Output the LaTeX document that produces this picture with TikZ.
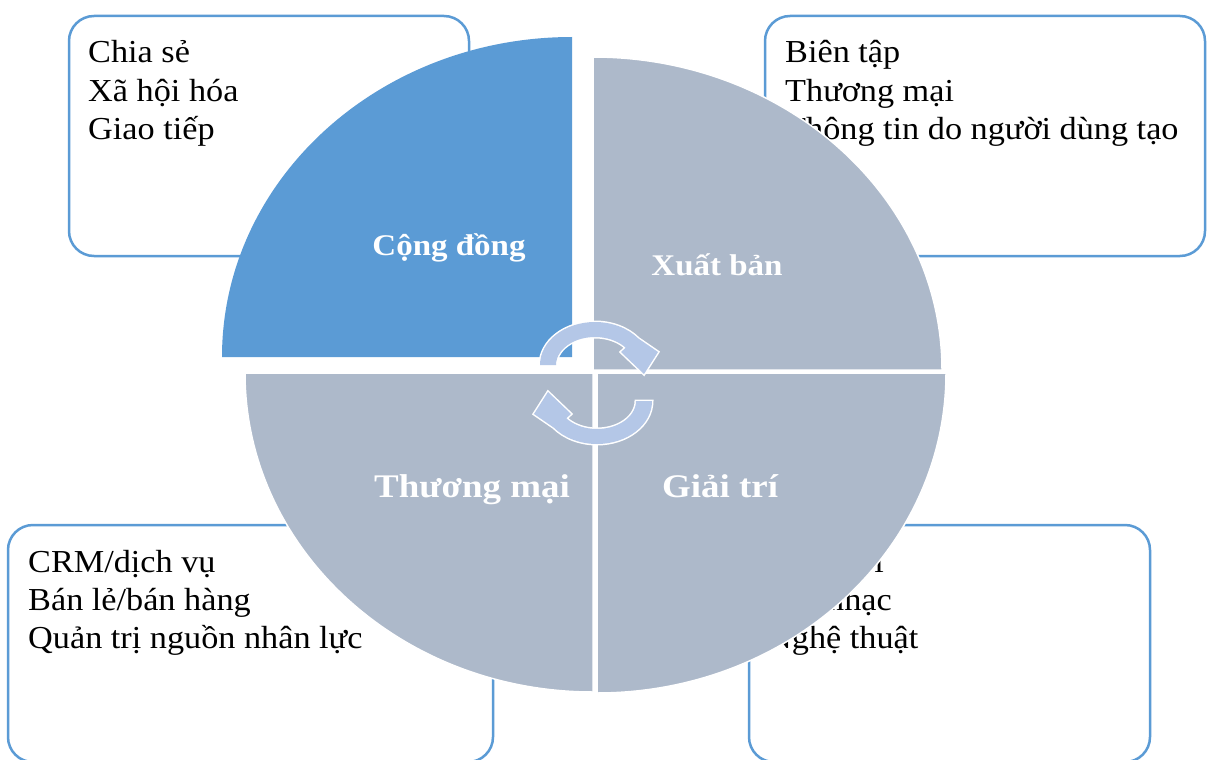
\documentclass[tikz,border=0pt]{standalone}
\usepackage{fontspec}
\setmainfont{Liberation Serif}
\definecolor{qblue}{HTML}{5B9BD5}
\definecolor{qgray}{HTML}{ADB9CA}
\definecolor{arw}{HTML}{B4C7E7}
\begin{document}
\begin{tikzpicture}[x=1pt,y=-1pt,
  box/.style={draw=qblue, line width=2.5pt, fill=white, rounded corners=25pt},
  itm/.style={anchor=base west, inner sep=0pt, transform shape, xscale=1.07,
              font=\fontsize{32}{38}\selectfont, text=black},
  labt/.style={anchor=base, inner sep=0pt, transform shape, xscale=1.1,
              font=\fontsize{30}{36}\selectfont\bfseries, text=white},
  labb/.style={anchor=base, inner sep=0pt, transform shape, xscale=1.12,
              font=\fontsize{33}{38}\selectfont\bfseries, text=white},
  quad/.style={fill=qgray, draw=white, line width=1.5pt},
  cyc/.pic={\path[fill=arw, preaction={draw=white, line width=3pt, line join=miter}]
     (-55,0) arc[start angle=180,end angle=322,x radius=55,y radius=43]
     -- (63,-13) -- (49,9) -- (26,-13) -- ({39*cos(322)},{28*sin(322)})
     arc[start angle=322,end angle=180,x radius=39,y radius=28] -- cycle;}
]
\useasboundingbox (0,0) rectangle (1207,760);
\fill[white] (0,0) rectangle (1207,760);
% boxes
\draw[box] (69,16) rectangle (469,256);
\draw[box] (765,16) rectangle (1205,256);
\draw[box] (8,525) rectangle (493,762);
\draw[box] (749,525) rectangle (1150,762);
% box texts
\node[itm] (a1) at (88,63) {Chia sẻ};
\node[itm] (a2) at (88,101) {Xã hội hóa};
\node[itm] (a3) at (88,139) {Giao tiếp};
\node[itm] (b1) at (785,63) {Biên tập};
\node[itm] (b2) at (785,101) {Thương mại};
\node[itm] (b3) at (785,139) {Thông tin do người dùng tạo};
\node[itm] (c1) at (28,572) {CRM/dịch vụ};
\node[itm] (c2) at (28,610) {Bán lẻ/bán hàng};
\node[itm] (c3) at (28,648) {Quản trị nguồn nhân lực};
\node[itm] (d1) at (767,572) {Trò chơi};
\node[itm] (d2) at (767,610) {Âm nhạc};
\node[itm] (d3) at (767,648) {Nghệ thuật};
% pie quadrants
\path[fill=qblue] (572,357) -- ++(-350,0) arc[start angle=180,end angle=270,x radius=350,y radius=320] -- cycle;
\path[quad] (593,370) -- ++(0,-313) arc[start angle=270,end angle=360,x radius=349,y radius=313] -- cycle;
\path[quad] (597,373) -- ++(349,0) arc[start angle=0,end angle=90,x radius=349,y radius=320] -- cycle;
\path[quad] (593,373) -- ++(0,319) arc[start angle=90,end angle=180,x radius=348,y radius=319] -- cycle;
% labels
\node[labt] (q1) at (449,255) {Cộng đồng};
\node[labt] (q2) at (717,275) {Xuất bản};
\node[labb] (q3) at (472,497) {Thương mại};
\node[labb] (q4) at (720,497) {Giải trí};
% cycle arrows
\pic at (595,365) {cyc};
\pic[rotate=180] at (597,401) {cyc};
\end{tikzpicture}
\end{document}
